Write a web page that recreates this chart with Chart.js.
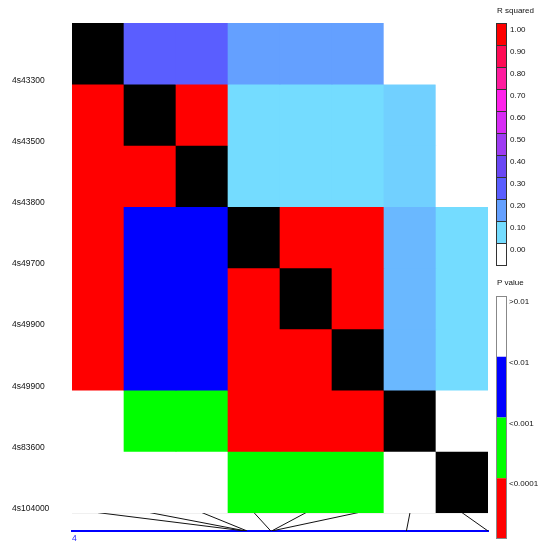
<!DOCTYPE html>
<html>
<head>
<meta charset="utf-8">
<script src="https://cdn.jsdelivr.net/npm/chart.js@4.4.1/dist/chart.umd.min.js"></script>
<style>
  html, body { margin: 0; padding: 0; background: #fff; }
  #wrap { width: 541px; height: 542px; }
</style>
</head>
<body>
<div id="wrap"><canvas id="ldChart"></canvas></div>
<script>
// ---------- data ----------
const snpLabels = ['4s43300', '4s43500', '4s43800', '4s49700', '4s49900', '4s49900', '4s83600', '4s104000'];
const snpPositions = [43300, 43500, 43800, 49700, 49900, 49900, 83600, 104000];
const chromosome = '4';

// r squared, upper triangle (row i, col j > i)
const rSquared = [
  [null, 0.30, 0.30, 0.20, 0.20, 0.20, 0.00, 0.00],
  [null, null, 1.00, 0.10, 0.10, 0.10, 0.12, 0.00],
  [null, null, null, 0.10, 0.10, 0.10, 0.12, 0.00],
  [null, null, null, null, 1.00, 1.00, 0.16, 0.10],
  [null, null, null, null, null, 1.00, 0.16, 0.10],
  [null, null, null, null, null, null, 0.16, 0.10],
  [null, null, null, null, null, null, null, 0.00],
  [null, null, null, null, null, null, null, null]
];

// p value class, lower triangle: 0 = >0.01, 1 = <0.01, 2 = <0.001, 3 = <0.0001
const pClass = [
  [],
  [3],
  [3, 3],
  [3, 1, 1],
  [3, 1, 1, 3],
  [3, 1, 1, 3, 3],
  [0, 2, 2, 3, 3, 3],
  [0, 0, 0, 2, 2, 2, 0]
];

// legend scales
const r2TickLabels = ['0.00', '0.10', '0.20', '0.30', '0.40', '0.50', '0.60', '0.70', '0.80', '0.90', '1.00'];
const r2Colors = ['#ffffff', '#74dcff', '#64a0ff', '#5a5eff', '#6a48f4', '#9e3cf2', '#d72cf4', '#ff22ea', '#ff1c9e', '#ff0c55', '#ff0000'];
const pTickLabels = ['>0.01', '<0.01', '<0.001', '<0.0001'];
const pColors = ['#ffffff', '#0000ff', '#00ff00', '#ff0000'];

const nSnp = snpLabels.length;
const connectorDepth = 0.3; // rows
const chromLength = Math.max(...snpPositions);

// ---------- colours ----------
function hexToRgb(h) {
  return [parseInt(h.slice(1, 3), 16), parseInt(h.slice(3, 5), 16), parseInt(h.slice(5, 7), 16)];
}
function r2Color(v) {
  const f = v * (r2Colors.length - 1);
  const lo = Math.floor(f), hi = Math.min(lo + 1, r2Colors.length - 1);
  const t = f - lo;
  const a = hexToRgb(r2Colors[lo]), b = hexToRgb(r2Colors[hi]);
  const c = a.map((x, k) => Math.round(x + (b[k] - x) * t));
  return 'rgb(' + c.join(',') + ')';
}
function cellColor(r, c) {
  if (r === c) return '#000000';
  if (c > r) return r2Color(rSquared[r][c]);
  return pColors[pClass[r][c]];
}

// ---------- datasets ----------
const cellSets = snpLabels.map((_, r) => ({
  type: 'bar',
  xAxisID: 'x',
  yAxisID: 'y',
  data: snpLabels.map((_, c) => ({ x: c + 0.5, y: [r, r + 1] })),
  backgroundColor: snpLabels.map((_, c) => cellColor(r, c)),
  borderWidth: 0,
  grouped: false,
  barPercentage: 1,
  categoryPercentage: 1
}));

const baseLine = {
  type: 'line',
  xAxisID: 'xc',
  yAxisID: 'y',
  data: [{ x: 0, y: nSnp }, { x: chromLength, y: nSnp }],
  borderColor: '#8a8a8a',
  borderWidth: 1,
  pointRadius: 0
};

const connectorSets = snpPositions.map((pos, i) => ({
  type: 'line',
  xAxisID: 'xc',
  yAxisID: 'y',
  data: [
    { x: (i + 0.5) * chromLength / nSnp, y: nSnp },
    { x: pos, y: nSnp + connectorDepth }
  ],
  borderColor: '#111111',
  borderWidth: 1,
  pointRadius: 0
}));

// ---------- legend plugin ----------
const ldLegend = {
  id: 'ldLegend',
  afterDraw(chart) {
    const ctx = chart.ctx;
    const x0 = chart.chartArea.right + 8;
    ctx.save();
    ctx.font = '8px "Liberation Sans"';
    ctx.textBaseline = 'middle';
    ctx.textAlign = 'left';
    ctx.fillStyle = '#111';

    // R squared
    ctx.fillText('R squared', x0 + 1, 11);
    const top = 23, h = 22, w = 10;
    for (let k = 0; k < r2Colors.length; k++) {
      const idx = r2Colors.length - 1 - k;
      const y = top + k * h;
      ctx.fillStyle = r2Colors[idx];
      ctx.fillRect(x0, y, w, h);
      ctx.strokeStyle = '#333';
      ctx.lineWidth = 1;
      ctx.strokeRect(x0 + 0.5, y + 0.5, w, h);
      ctx.fillStyle = '#111';
      ctx.fillText(r2TickLabels[idx], x0 + 14, y + 6.5);
    }

    // P value
    ctx.fillText('P value', x0 + 1, 283);
    const pTop = 296, ph = 60.75;
    for (let k = 0; k < pColors.length; k++) {
      const y = pTop + k * ph;
      ctx.fillStyle = pColors[k];
      ctx.fillRect(x0, y, w, ph);
      ctx.fillStyle = '#111';
      ctx.fillText(pTickLabels[k], x0 + 13, y + 6);
    }
    ctx.strokeStyle = '#888';
    ctx.strokeRect(x0 + 0.5, pTop + 0.5, w, ph * pColors.length - 1);
    ctx.restore();
  }
};

// ---------- chart ----------
Chart.defaults.font.family = '"Liberation Sans", Arial, sans-serif';

new Chart(document.getElementById('ldChart'), {
  type: 'bar',
  data: { datasets: [...cellSets, baseLine, ...connectorSets] },
  options: {
    responsive: true,
    maintainAspectRatio: false,
    animation: false,
    layout: { padding: { left: 12, top: 23, right: 53, bottom: 0 } },
    plugins: { legend: { display: false }, tooltip: { enabled: false } },
    scales: {
      x: {
        type: 'linear', display: false, offset: false,
        min: 0, max: nSnp,
        ticks: { stepSize: 1 }
      },
      xc: {
        type: 'linear', position: 'bottom', offset: false,
        min: 0, max: chromLength,
        afterBuildTicks: s => { s.ticks = [{ value: 0 }]; },
        afterFit: s => { s.height = 11; },
        ticks: {
          callback: () => chromosome,
          align: 'start', padding: 3, color: '#2020ff',
          font: { size: 8.5 }
        },
        grid: { display: false, drawTicks: false },
        border: { display: true, color: '#0000ff', width: 2 }
      },
      y: {
        type: 'linear', reverse: true,
        min: 0, max: nSnp + connectorDepth,
        afterBuildTicks: s => { s.ticks = snpLabels.map((_, i) => ({ value: i + 1 })); },
        afterFit: s => { s.width = 60; },
        ticks: {
          callback: v => snpLabels[v - 1],
          crossAlign: 'far', labelOffset: -4, padding: 0,
          autoSkip: false, color: '#111', font: { size: 8.5 }
        },
        grid: { display: false, drawTicks: false },
        border: { display: false }
      }
    }
  },
  plugins: [ldLegend]
});
</script>
</body>
</html>
